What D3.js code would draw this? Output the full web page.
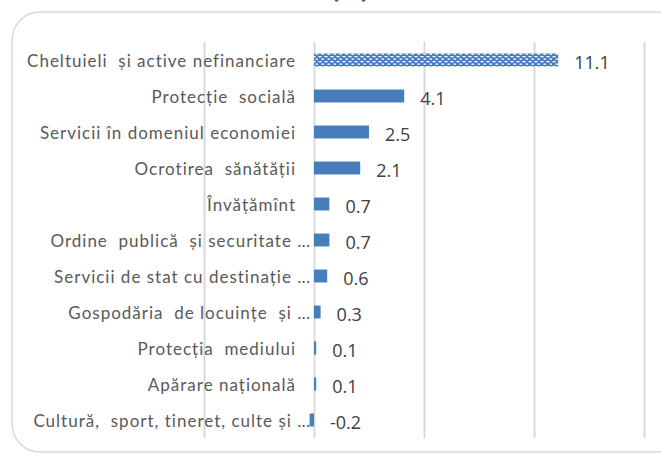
<!DOCTYPE html>
<html>
<head>
<meta charset="utf-8">
<script src="https://cdn.jsdelivr.net/npm/d3@7"></script>
<style>
  html, body { margin: 0; padding: 0; background: #ffffff; }
  svg { display: block; }
</style>
</head>
<body>
<svg id="chart" width="661" height="457"></svg>
<script>
// Categories, top to bottom
const categories = [
  "Cheltuieli  și active nefinanciare",
  "Protecție  socială",
  "Servicii în domeniul economiei",
  "Ocrotirea  sănătății",
  "Învățămînt",
  "Ordine  publică  și securitate …",
  "Servicii de stat cu destinație …",
  "Gospodăria  de locuințe  și …",
  "Protecția  mediului",
  "Apărare națională",
  "Cultură,  sport, tineret, culte și …"
];
// Values shown next to each bar
const values = [11.1, 4.1, 2.5, 2.1, 0.7, 0.7, 0.6, 0.3, 0.1, 0.1, -0.2];
// Value axis gridline positions
const gridTicks = [-5, 0, 5, 10, 15];
const titleText = "(%)";

const svg = d3.select("#chart");

// Pattern fill for the total bar
const defs = svg.append("defs");
const pat = defs.append("pattern")
  .attr("id", "checker")
  .attr("patternUnits", "userSpaceOnUse")
  .attr("width", 6).attr("height", 5);
pat.append("rect").attr("width", 6).attr("height", 5).attr("fill", "#4a7ebb");
pat.append("rect").attr("x", 0.5).attr("y", 1).attr("width", 3).attr("height", 1.3).attr("fill", "#ffffff");
pat.append("rect").attr("x", 3.5).attr("y", 3.5).attr("width", 3).attr("height", 1.3).attr("fill", "#ffffff");

// Title (partly above the visible area)
svg.append("text")
  .attr("x", 350).attr("y", -2)
  .attr("text-anchor", "middle")
  .attr("font-family", "Open Sans, sans-serif")
  .attr("font-weight", "bold")
  .attr("font-size", 24)
  .attr("fill", "#2f5597")
  .text(titleText);

// Chart frame
svg.append("rect")
  .attr("x", 12).attr("y", 12)
  .attr("width", 672).attr("height", 440)
  .attr("rx", 28).attr("ry", 28)
  .attr("fill", "none")
  .attr("stroke", "#d9d9d9")
  .attr("stroke-width", 1.5);

const x = d3.scaleLinear().domain([-5, 15]).range([204, 644]);
const y = d3.scaleBand().domain(categories).range([42, 438]).paddingInner(0.64).paddingOuter(0.32);

// Vertical gridlines
const xAxis = d3.axisBottom(x).tickValues(gridTicks).tickSize(-(438 - 42)).tickFormat("");
const gx = svg.append("g").attr("transform", "translate(0,438)").call(xAxis);
gx.select(".domain").remove();
gx.selectAll(".tick line").attr("stroke", "#d9d9d9").attr("stroke-width", 2);

// Bars
svg.append("g").selectAll("rect")
  .data(values)
  .join("rect")
  .attr("x", d => x(Math.min(0, d)))
  .attr("y", (d, i) => y(categories[i]))
  .attr("width", d => Math.max(2, Math.abs(x(d) - x(0))))
  .attr("height", y.bandwidth())
  .attr("fill", (d, i) => i === 0 ? "url(#checker)" : "#4a7ebb");

// Category labels
svg.append("g").selectAll("text")
  .data(categories)
  .join("text")
  .attr("x", d => d.endsWith("…") ? 311 : 296)
  .attr("y", d => y(d) + y.bandwidth() / 2 + 1)
  .attr("dy", "0.35em")
  .attr("text-anchor", "end")
  .attr("font-family", "Lato, sans-serif")
  .attr("font-size", 17)
  .attr("letter-spacing", 1.0)
  .attr("xml:space", "preserve")
  .style("white-space", "pre")
  .attr("fill", "#595959")
  .text(d => d);

// Value labels
svg.append("g").selectAll("text")
  .data(values)
  .join("text")
  .attr("x", d => Math.max(x(d), x(0)) + 16)
  .attr("y", (d, i) => y(categories[i]) + y.bandwidth() / 2 + 3)
  .attr("dy", "0.35em")
  .attr("font-family", "Open Sans, sans-serif")
  .attr("font-size", 18)
  .attr("fill", "#404040")
  .text(d => d.toFixed(1));
</script>
</body>
</html>
